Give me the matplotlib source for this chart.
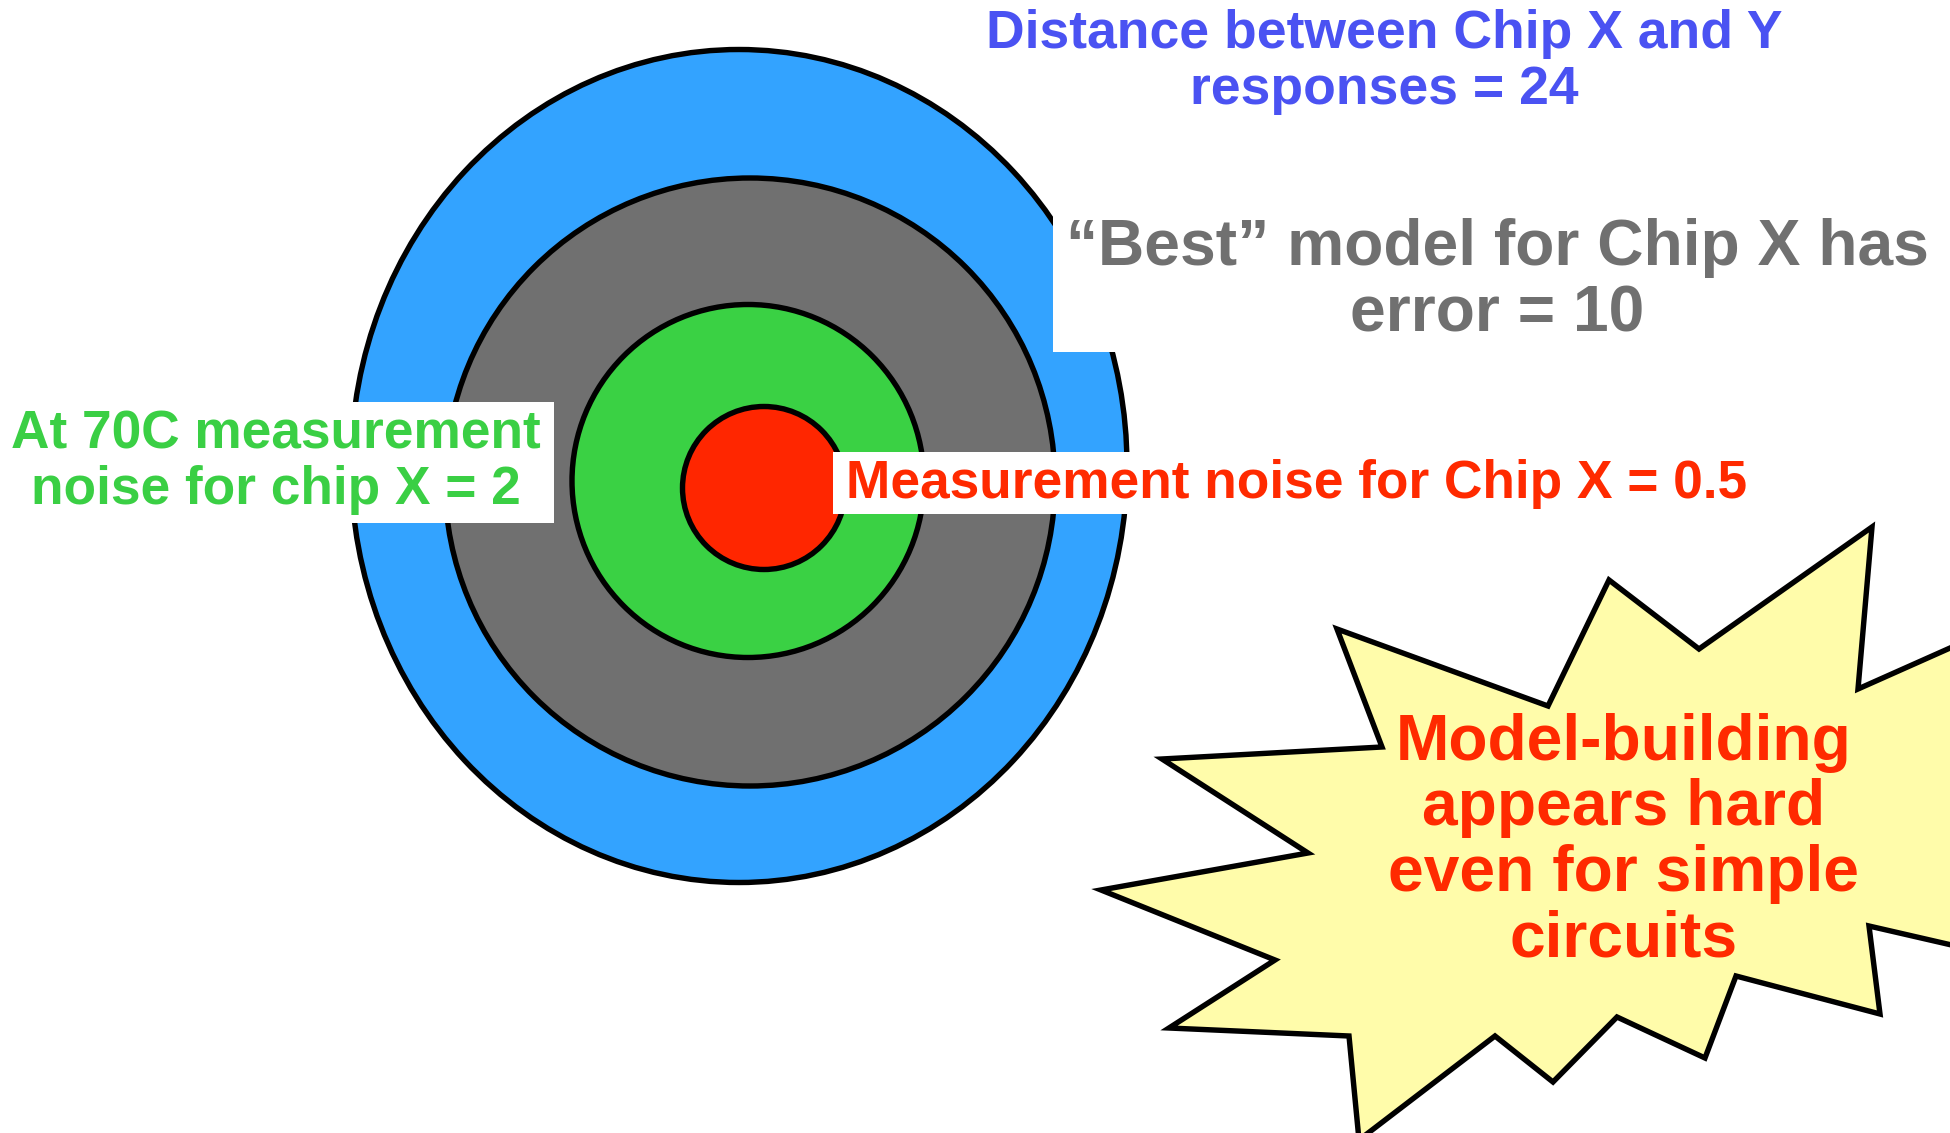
import matplotlib
matplotlib.use("Agg")
import matplotlib.pyplot as plt
from matplotlib.patches import Ellipse, Rectangle, Polygon

# ---- data ----
ring_labels = ["Distance between Chip X and Y\nresponses = 24",
               "\u201cBest\u201d model for Chip X has\nerror = 10",
               "At 70C measurement\nnoise for chip X = 2",
               "Measurement noise for Chip X = 0.5"]
ring_values = [24, 10, 2, 0.5]
ring_colors = ["#33A3FF", "#707070", "#3AD144", "#FF2600"]
text_colors = ["#4A52F2", "#707070", "#3ACF44", "#FF2A00"]
callout_text = "Model-building\nappears hard\neven for simple\ncircuits"

# ring geometry (pixel layout): centre x, centre y, width, height
ring_cx = [739, 750, 748, 764]
ring_cy = [466, 482, 481, 488]
ring_w = [776, 610, 352, 163]
ring_h = [833, 608, 353, 163]

# starburst outline (pixel layout)
burst_x = [1337, 1548, 1609, 1699, 1872, 1858, 1995, 1995, 1869, 1880, 1736, 1705,
           1617, 1553, 1495, 1359, 1349, 1169, 1275, 1101, 1308, 1162, 1382]
burst_y = [629, 706, 580, 649, 527, 689, 628, 955, 926, 1014, 976, 1058,
           1017, 1082, 1036, 1140, 1036, 1028, 960, 890, 853, 759, 747]

W, H = 1950, 1133
fig = plt.figure(figsize=(W / 100, H / 100), dpi=100)
ax = fig.add_axes([0, 0, 1, 1])
ax.set_xlim(0, W)
ax.set_ylim(H, 0)
ax.axis("off")

font = ["Liberation Sans", "DejaVu Sans"]
LW = 3.9

for i in range(len(ring_values)):
    ax.add_patch(Ellipse((ring_cx[i], ring_cy[i]), ring_w[i], ring_h[i],
                         facecolor=ring_colors[i], edgecolor="black",
                         linewidth=LW, zorder=1 + i))

# white label boxes
ax.add_patch(Rectangle((1053, 215), 900, 137, facecolor="white", edgecolor="none", zorder=10))
ax.add_patch(Rectangle((0, 402), 554, 121, facecolor="white", edgecolor="none", zorder=10))
ax.add_patch(Rectangle((833, 452), 935, 62, facecolor="white", edgecolor="none", zorder=10))

# texts
ax.text(1384, 62, ring_labels[0], ha="center", va="center", multialignment="center",
        color=text_colors[0], fontsize=38.5, fontweight="bold", family=font,
        linespacing=1.13, zorder=20)
ax.text(1497, 281, ring_labels[1], ha="center", va="center", multialignment="center",
        color=text_colors[1], fontsize=46.2, fontweight="bold", family=font,
        linespacing=1.13, zorder=20)
ax.text(276, 462, ring_labels[2], ha="center", va="center", multialignment="center",
        color=text_colors[2], fontsize=38.3, fontweight="bold", family=font,
        linespacing=1.13, zorder=20)
ax.text(846, 484, ring_labels[3], ha="left", va="center",
        color=text_colors[3], fontsize=38.3, fontweight="bold", family=font, zorder=20)

ax.add_patch(Polygon(list(zip(burst_x, burst_y)), closed=True, facecolor="#FFFCAA",
                     edgecolor="black", linewidth=LW, zorder=30, clip_on=True))
ax.text(1624, 841, callout_text, ha="center", va="center", multialignment="center",
        color=text_colors[3], fontsize=46.2, fontweight="bold", family=font,
        linespacing=1.12, zorder=31)

fig.savefig("out.png", dpi=100)
